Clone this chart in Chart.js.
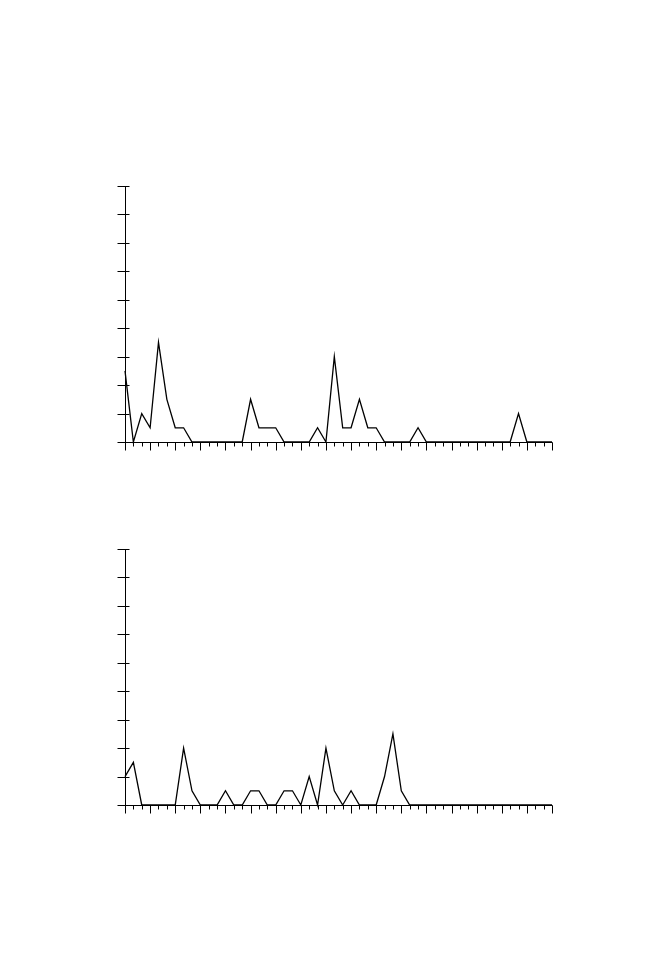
<!DOCTYPE html>
<html>
<head>
<meta charset="utf-8">
<script src="https://cdn.jsdelivr.net/npm/chart.js@4.4.1/dist/chart.umd.min.js"></script>
<style>
  html, body { margin: 0; padding: 0; background: #fff; }
  #wrap { position: relative; width: 648px; height: 972px; }
  canvas { position: absolute; left: 0; }
</style>
</head>
<body>
<div id="wrap">
  <canvas id="top" width="648" height="486" style="top:0"></canvas>
  <canvas id="bottom" width="648" height="486" style="top:486px"></canvas>
</div>
<script>
// x positions 0..51, one point each
const positions = Array.from({length: 52}, (_, i) => i);

const topValues = [2.5, 0, 1, 0.5, 3.5, 1.5, 0.5, 0.5, 0,
    0, 0, 0, 0, 0, 0,
    1.5, 0.5, 0.5, 0.5,
    0, 0, 0, 0,
    0.5, 0,
    3, 0.5, 0.5, 1.5, 0.5, 0.5,
    0, 0, 0, 0,
    0.5,
    0, 0, 0, 0, 0, 0, 0, 0, 0, 0, 0,
    1,
    0, 0, 0, 0];

const bottomValues = [1, 1.5, 0, 0, 0, 0, 0, 2, 0.5, 0, 0, 0, 0.5, 0, 0, 0.5, 0.5, 0, 0, 0.5, 0.5, 0, 1, 0, 2, 0.5,
    0, 0.5, 0, 0, 0, 1, 2.5, 0.5,
    0, 0, 0, 0, 0, 0, 0, 0, 0, 0, 0, 0, 0, 0, 0, 0, 0, 0];

const yMax = 9;
const xMajorEvery = 3;

// draws the axis lines and tick marks from the chart's own scales
const axesPlugin = {
    id: "axes",
    afterDatasetsDraw(chart) {
        const ctx = chart.ctx;
        const x = chart.scales.x;
        const y = chart.scales.y;
        const x0 = Math.round(x.getPixelForValue(0)) + 0.5;
        const y0 = Math.round(y.getPixelForValue(0)) + 0.5;
        const yTop = Math.round(y.getPixelForValue(yMax)) + 0.5;
        const xEnd = Math.round(x.getPixelForValue(positions[positions.length - 1])) + 0.5;
        ctx.save();
        ctx.strokeStyle = "#000";
        ctx.lineWidth = 1;
        ctx.beginPath();
        ctx.moveTo(x0, yTop);
        ctx.lineTo(x0, y0);
        ctx.lineTo(xEnd, y0);
        y.ticks.forEach((t) => {
            const py = Math.round(y.getPixelForValue(t.value)) + 0.5;
            ctx.moveTo(x0 - 8, py);
            ctx.lineTo(x0 + 4, py);
        });
        x.ticks.forEach((t) => {
            const px = Math.round(x.getPixelForValue(t.value)) + 0.5;
            ctx.moveTo(px, y0);
            ctx.lineTo(px, y0 + (t.value % xMajorEvery === 0 ? 8 : 4));
        });
        ctx.stroke();
        ctx.restore();
    }
};

function makeChart(id, values, padding) {
    return new Chart(document.getElementById(id).getContext("2d"), {
        type: "line",
        data: {
            labels: positions,
            datasets: [{
                data: values,
                borderColor: "#000",
                borderWidth: 1.3,
                pointRadius: 0,
                tension: 0,
                fill: false,
                clip: false
            }]
        },
        options: {
            responsive: false,
            animation: false,
            devicePixelRatio: 1,
            layout: { padding: padding },
            plugins: { legend: { display: false }, tooltip: { enabled: false } },
            scales: {
                x: {
                    type: "linear",
                    display: false,
                    min: 0,
                    max: 51,
                    ticks: { stepSize: 1, autoSkip: false }
                },
                y: {
                    display: false,
                    min: 0,
                    max: yMax,
                    ticks: { stepSize: 1, autoSkip: false }
                }
            }
        },
        plugins: [axesPlugin]
    });
}

makeChart("top", topValues, { left: 125, right: 96, top: 186, bottom: 44 });
makeChart("bottom", bottomValues, { left: 125, right: 96, top: 63, bottom: 167 });
</script>
</body>
</html>
